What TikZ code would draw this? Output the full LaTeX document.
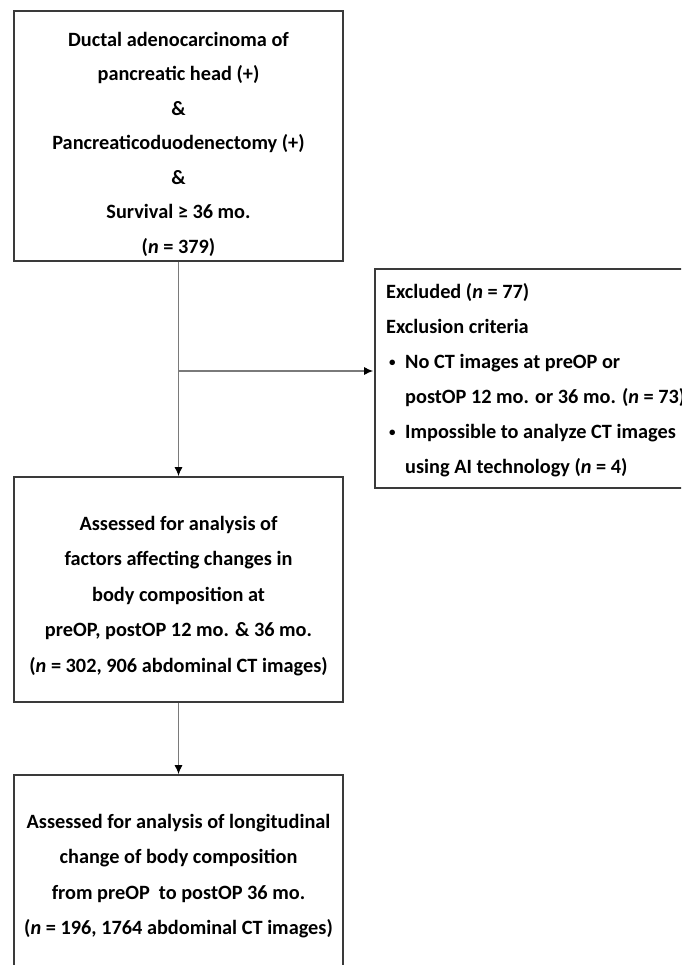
\documentclass[tikz,border=0pt]{standalone}
\usepackage{fontspec}
\setmainfont{Carlito}
\usetikzlibrary{arrows.meta}
\definecolor{boxgray}{HTML}{3A3A3A}
\definecolor{linegray}{HTML}{7A7A7A}
\newcommand{\mybul}{\makebox[19pt][l]{\hspace{3pt}\raisebox{1.5pt}{\fontsize{13}{13}\selectfont •}}}
\begin{document}
\begin{tikzpicture}[x=1pt,y=-1pt,
  box/.style={draw=boxgray, line width=1.8pt, minimum width=329pt, inner sep=0pt},
  txt/.style={font=\bfseries\fontsize{20.3}{34.5}\selectfont, align=center, inner sep=0pt, text=black},
  txtb/.style={font=\bfseries\fontsize{20.3}{35.5}\selectfont, align=center, inner sep=0pt, text=black},
  conn/.style={draw=linegray, line width=1.1pt, -{Latex[length=9pt,width=8pt,color=black]}}]
\useasboundingbox (0,0) rectangle (681,965);
\clip (0,0) rectangle (681,965);
\fill[white] (0,0) rectangle (681,965);
% boxes
\node[box, minimum height=250pt] (b1) at (178.5,136) {};
\node[box, minimum height=225pt] (b2) at (178.5,589.5) {};
\node[box, minimum height=240pt] (b3) at (178.5,895) {};
\node[box, minimum width=340pt, minimum height=219pt] (ex) at (545,378.5) {};
% texts
\node[txt] (t1) at (178.5,144) {Ductal adenocarcinoma of\\pancreatic head (+)\\\&\\Pancreaticoduodenectomy (+)\\\&\\Survival ≥ 36 mo.\\(\textit{n} = 379)};
\node[txtb] (t2) at (178.5,596) {Assessed for analysis of\\factors affecting changes in\\body composition at\\preOP, postOP 12 mo. \& 36 mo.\\(\textit{n} = 302, 906 abdominal CT images)};
\node[txtb] (t3) at (178.5,876) {Assessed for analysis of longitudinal\\change of body composition\\from preOP\ \ to postOP 36 mo.\\(\textit{n} = 196, 1764 abdominal CT images)};
\node[txt, font=\bfseries\fontsize{20.3}{35}\selectfont, align=left, anchor=west] (tex) at (386,380) {Excluded (\textit{n} = 77)\\Exclusion criteria\\\mybul No CT images at preOP or\\\hspace*{19pt}postOP 12 mo. or 36 mo. (\textit{n} = 73)\\\mybul Impossible to analyze CT images\\\hspace*{19pt}using AI technology (\textit{n} = 4)};
% connectors
\coordinate (j) at (b1.south |- 0,371);
\draw[conn] (b1.south) -- (b2.north);
\draw[conn, shorten >=1pt] (j) -- (j -| ex.west);
\draw[conn] (b2.south) -- (b3.north);
\end{tikzpicture}
\end{document}
